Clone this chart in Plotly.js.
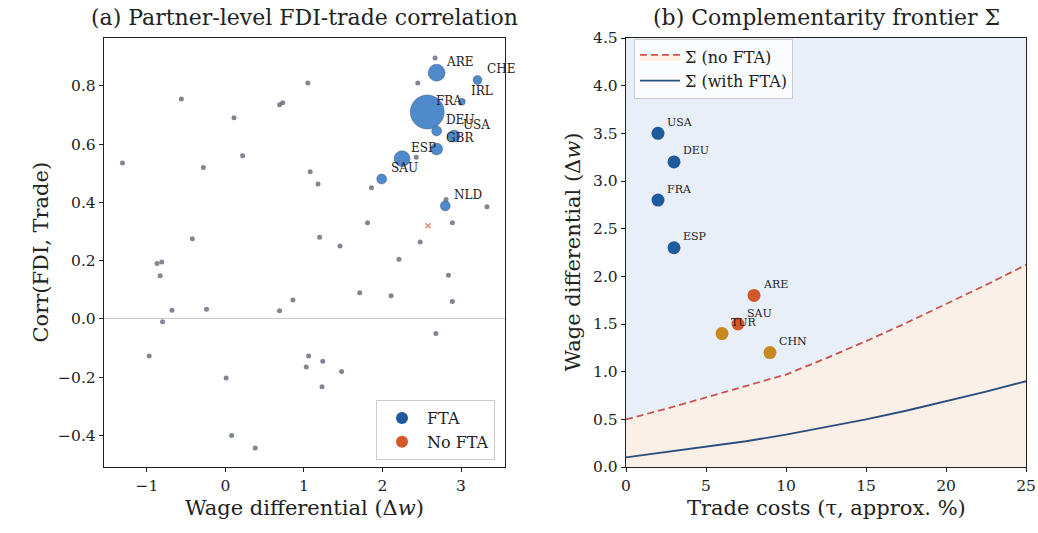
<!DOCTYPE html>
<html>
<head>
<meta charset="utf-8">
<script src="https://cdn.plot.ly/plotly-3.0.1.min.js"></script>
<style>html,body{margin:0;padding:0;background:#fff;}#chart{width:1038px;height:533px;}</style>
</head>
<body>
<div id="chart"></div>
<script>
// ---------- Panel (a): labelled partners ----------
const labPartners = ["ARE", "CHE", "IRL", "FRA", "DEU", "USA", "GBR", "ESP", "SAU", "NLD"];
const labWage     = [2.69, 3.21, 3.01, 2.57, 2.69, 2.91, 2.69, 2.25, 1.99, 2.80];
const labCorr     = [0.845, 0.82, 0.745, 0.71, 0.645, 0.628, 0.583, 0.55, 0.48, 0.388];
const labFdiWeight = [25, 7, 4.2, 100, 8.7, 12.5, 12.5, 22, 8.7, 8.7];

// ---------- Panel (a): other partners ----------
const otherWage = [2.67, 2.45, 2.43, 1.86, 2.81, 3.33, 2.89, 1.81, 2.48, 1.20, 1.46, -0.42, 1.05, -0.56, 0.69, 0.73,
  0.11, 0.22, -1.31, -0.28, 1.08, 1.18, -0.87, -0.81, -0.83, 2.21, 2.84, 1.71, 2.11, 2.89, -0.68, -0.24, 0.69, 0.86,
  -0.80, 2.68, -0.97, 1.06, 1.03, 1.24, 1.48, 1.23, 0.01, 0.08, 0.38];
const otherCorr = [0.895, 0.81, 0.555, 0.45, 0.41, 0.385, 0.33, 0.33, 0.264, 0.28, 0.25, 0.275, 0.81, 0.755, 0.735, 0.742,
  0.69, 0.56, 0.535, 0.52, 0.505, 0.463, 0.19, 0.195, 0.148, 0.205, 0.15, 0.09, 0.08, 0.06, 0.03, 0.033, 0.028, 0.065,
  -0.01, -0.05, -0.127, -0.127, -0.165, -0.145, -0.18, -0.233, -0.203, -0.40, -0.443];
const noFtaWage = [2.58];
const noFtaCorr = [0.32];

// ---------- Panel (b): frontier curves ----------
const tau          = [0, 2.5, 5, 7.5, 10, 12.5, 15, 17.5, 20, 22.5, 25];
const sigmaNoFta   = [0.50, 0.61, 0.73, 0.85, 0.97, 1.14, 1.32, 1.51, 1.71, 1.91, 2.12];
const sigmaWithFta = [0.10, 0.155, 0.21, 0.27, 0.34, 0.42, 0.50, 0.59, 0.69, 0.79, 0.90];

// ---------- Panel (b): partners ----------
const bFtaNames = ["USA", "DEU", "FRA", "ESP"];
const bFtaTau   = [2, 3, 2, 3];
const bFtaWage  = [3.5, 3.2, 2.8, 2.3];
const bNoFtaNames = ["ARE", "SAU"];
const bNoFtaTau   = [8, 7];
const bNoFtaWage  = [1.8, 1.5];
const bOtherNames = ["TUR", "CHN"];
const bOtherTau   = [6, 9];
const bOtherWage  = [1.4, 1.2];

const SERIF = "DejaVu Serif, serif";
const FTA_BLUE = "#1f5a9c";
const NOFTA_RED = "#d4572a";

const traces = [
  // panel a
  {x: otherWage, y: otherCorr, type: "scatter", mode: "markers", xaxis: "x", yaxis: "y", showlegend: false,
   marker: {size: 5, color: "rgba(85,95,110,0.75)", line: {width: 0}}},
  {x: noFtaWage, y: noFtaCorr, type: "scatter", mode: "markers", xaxis: "x", yaxis: "y", showlegend: false,
   marker: {size: 5, color: "rgba(222,110,70,0.8)", symbol: "x-thin", line: {width: 1.5, color: "rgba(222,110,70,0.8)"}}},
  {x: labWage, y: labCorr, type: "scatter", mode: "markers", xaxis: "x", yaxis: "y", showlegend: false,
   marker: {size: labFdiWeight.map(v => 3.4 * Math.sqrt(v)), color: "#4684c9", opacity: 0.95,
            line: {width: 0.6, color: "rgba(50,60,80,0.6)"}}},
  {x: [null], y: [null], type: "scatter", mode: "markers", name: "FTA", xaxis: "x", yaxis: "y", legend: "legend",
   marker: {size: 12, color: FTA_BLUE}},
  {x: [null], y: [null], type: "scatter", mode: "markers", name: "No FTA", xaxis: "x", yaxis: "y", legend: "legend",
   marker: {size: 12, color: NOFTA_RED}},
  // panel b
  {x: tau, y: sigmaNoFta, type: "scatter", mode: "lines", name: "Σ (no FTA)", xaxis: "x2", yaxis: "y2", legend: "legend2",
   line: {color: "#c9544c", width: 1.8, dash: "7px,4px"}, fill: "tozeroy", fillcolor: "rgba(253,240,228,0.9)"},
  {x: tau, y: sigmaWithFta, type: "scatter", mode: "lines", name: "Σ (with FTA)", xaxis: "x2", yaxis: "y2", legend: "legend2",
   line: {color: "#2a4d80", width: 1.8}},
  {x: bOtherTau, y: bOtherWage, type: "scatter", mode: "markers", xaxis: "x2", yaxis: "y2", showlegend: false,
   marker: {size: 13, color: "#c8891e"}},
  {x: bNoFtaTau, y: bNoFtaWage, type: "scatter", mode: "markers", xaxis: "x2", yaxis: "y2", showlegend: false,
   marker: {size: 13, color: NOFTA_RED}},
  {x: bFtaTau, y: bFtaWage, type: "scatter", mode: "markers", xaxis: "x2", yaxis: "y2", showlegend: false,
   marker: {size: 13, color: FTA_BLUE}}
];

function labels(names, xs, ys, xref, yref, size) {
  return names.map((n, i) => ({
    text: n, x: xs[i], y: ys[i], xref: xref, yref: yref, xanchor: "left", yanchor: "middle",
    xshift: 7, yshift: 11, showarrow: false, font: {family: SERIF, size: size, color: "#222"}
  }));
}

function axTitle(text, xref, yref, isY, shift) {
  const a = {text: text, xref: xref, yref: yref, showarrow: false, font: {family: SERIF, size: 21, color: "#222"}};
  if (isY) Object.assign(a, {x: 0, y: 0.5, xanchor: "center", yanchor: "middle", textangle: -90, xshift: shift});
  else Object.assign(a, {x: 0.5, y: 0, xanchor: "center", yanchor: "middle", yshift: shift});
  return a;
}

const axisCommon = {
  showline: true, mirror: true, linecolor: "#222", linewidth: 1.2,
  ticks: "outside", ticklen: 4, tickcolor: "#222", tickwidth: 1,
  showgrid: false, automargin: false,
  tickfont: {family: SERIF, size: 15.5, color: "#222"}
};

const layout = {
  width: 1038, height: 533,
  margin: {l: 0, r: 0, t: 0, b: 0},
  paper_bgcolor: "#fff", plot_bgcolor: "rgba(0,0,0,0)",
  font: {family: SERIF, color: "#222"},
  xaxis: Object.assign({}, axisCommon, {
    domain: [104/1038, 505/1038], range: [-1.545, 3.56], dtick: 1, tick0: 0, zeroline: false
  }),
  yaxis: Object.assign({}, axisCommon, {
    domain: [66/533, 495/533], range: [-0.508, 0.964], dtick: 0.2, tick0: 0, tickformat: ".1f",
    zeroline: true, zerolinecolor: "#c8c8c8", zerolinewidth: 1
  }),
  xaxis2: Object.assign({}, axisCommon, {
    domain: [626/1038, 1026/1038], range: [0, 25], dtick: 5, tick0: 0, zeroline: false, anchor: "y2"
  }),
  yaxis2: Object.assign({}, axisCommon, {
    domain: [66/533, 495/533], range: [0, 4.5], dtick: 0.5, tick0: 0, tickformat: ".1f", zeroline: false, anchor: "x2"
  }),
  shapes: [
    {type: "rect", xref: "x2 domain", yref: "y2 domain", x0: 0, x1: 1, y0: 0, y1: 1,
     fillcolor: "#e9eff8", line: {width: 0}, layer: "below"}
  ],
  annotations: [
    {text: "(a) Partner-level FDI-trade correlation", xref: "x domain", yref: "y domain", x: 0.5, y: 1,
     xanchor: "center", yanchor: "middle", yshift: 21, showarrow: false, font: {family: SERIF, size: 22, color: "#222"}},
    {text: "(b) Complementarity frontier Σ", xref: "x2 domain", yref: "y2 domain", x: 0.5, y: 1,
     xanchor: "center", yanchor: "middle", yshift: 21, showarrow: false, font: {family: SERIF, size: 22, color: "#222"}},
    axTitle("Wage differential (Δ<i>w</i>)", "x domain", "y domain", false, -41),
    axTitle("Corr(FDI, Trade)", "x domain", "y domain", true, -64),
    axTitle("Trade costs (τ, approx. %)", "x2 domain", "y2 domain", false, -41),
    axTitle("Wage differential (Δ<i>w</i>)", "x2 domain", "y2 domain", true, -54)
  ].concat(labels(labPartners, labWage, labCorr, "x", "y", 12))
   .concat(labels(bOtherNames, bOtherTau, bOtherWage, "x2", "y2", 11))
   .concat(labels(bNoFtaNames, bNoFtaTau, bNoFtaWage, "x2", "y2", 11))
   .concat(labels(bFtaNames, bFtaTau, bFtaWage, "x2", "y2", 11)),
  legend: {x: 495/1038, y: 73/533, xanchor: "right", yanchor: "bottom", bgcolor: "rgba(255,255,255,0.85)",
           bordercolor: "#cccccc", borderwidth: 1, itemwidth: 40, font: {family: SERIF, size: 16, color: "#222"}},
  legend2: {x: 634/1038, y: 494/533, xanchor: "left", yanchor: "top", bgcolor: "rgba(255,255,255,0.8)",
            bordercolor: "#cccccc", borderwidth: 1, itemwidth: 40, font: {family: SERIF, size: 16, color: "#222"}}
};

Plotly.newPlot("chart", traces, layout, {staticPlot: true, displayModeBar: false});
</script>
</body>
</html>
